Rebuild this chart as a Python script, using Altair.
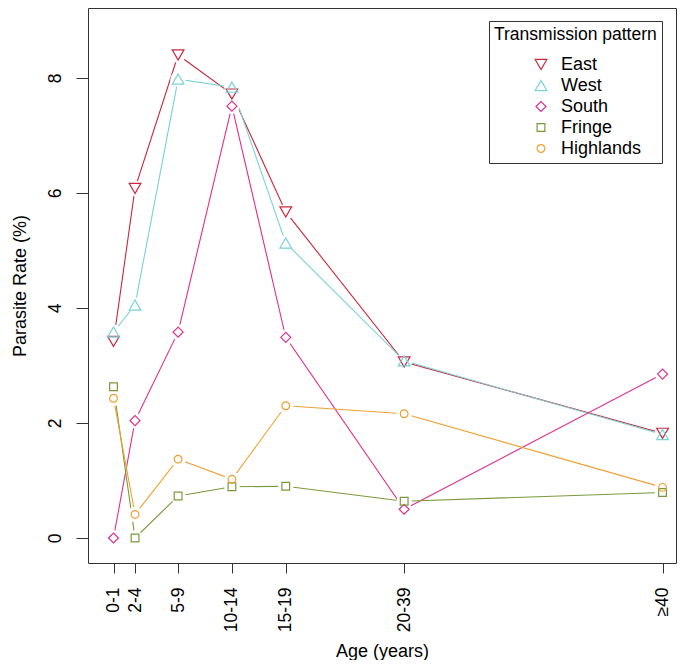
import altair as alt
import pandas as pd

AGE_LABELS = ["0-1", "2-4", "5-9", "10-14", "15-19", "20-39", "≥40"]
AGE_POS = [1, 3, 7, 12, 17, 28, 52]
SERIES = ["East", "West", "South", "Fringe", "Highlands"]
EAST = [3.42, 6.08, 8.40, 7.72, 5.67, 3.06, 1.82]
WEST = [3.58, 4.05, 7.98, 7.84, 5.13, 3.08, 1.80]
SOUTH = [0.0, 2.04, 3.58, 7.51, 3.49, 0.50, 2.85]
FRINGE = [2.63, 0.0, 0.73, 0.89, 0.90, 0.64, 0.79]
HIGHLANDS = [2.43, 0.41, 1.37, 1.02, 2.30, 2.16, 0.88]
COLORS = ["#C8283C", "#78D2D6", "#E0308A", "#7A9A3A", "#F0A030"]
SHAPES = ["triangle-down", "triangle-up", "diamond", "square", "circle"]
SIZES = [137, 137, 100, 60, 60]

values = [EAST, WEST, SOUTH, FRINGE, HIGHLANDS]
rows = []
for name, vals in zip(SERIES, values):
    for pos, lab, v in zip(AGE_POS, AGE_LABELS, vals):
        rows.append({"series": name, "age": pos, "label": lab, "rate": v})
df = pd.DataFrame(rows)

FONT = "Liberation Sans"

x_enc = alt.X(
    "age:Q",
    scale=alt.Scale(domain=[-1.369, 53.25], nice=False, zero=False),
    axis=alt.Axis(
        values=AGE_POS,
        labelExpr="[" + ",".join("'" + l + "'" for l in AGE_LABELS) + "][indexof(["
        + ",".join(str(p) for p in AGE_POS) + "], datum.value)]",
        labelAngle=270,
        labelAlign="right",
        labelBaseline="middle",
        tickSize=10,
        labelPadding=14,
        title="Age (years)",
        titleFontSize=18,
        titleY=93,
        titleBaseline="alphabetic",
        labelFlush=False,
        labelOverlap=False,
    ),
)
y_enc = alt.Y(
    "rate:Q",
    scale=alt.Scale(domain=[-0.435, 9.217], nice=False, zero=False),
    axis=alt.Axis(
        values=[0, 2, 4, 6, 8],
        labelAngle=270,
        labelAlign="center",
        labelBaseline="bottom",
        tickSize=12,
        labelPadding=12,
        title="Parasite Rate (%)",
        titleFontSize=18,
        titleAngle=270,
        titleX=-68,
        titleBaseline="middle",
        labelFlush=False,
    ),
)

color_scale = alt.Scale(domain=SERIES, range=COLORS)
shape_scale = alt.Scale(domain=SERIES, range=SHAPES)
size_scale = alt.Scale(type="ordinal", domain=SERIES, range=SIZES)

legend = alt.Legend(
    title="Transmission pattern",
    orient="none",
    legendX=401,
    legendY=13,
)

base = alt.Chart(df)

lines = base.mark_line(strokeWidth=1.1).encode(
    x=x_enc,
    y=y_enc,
    stroke=alt.Stroke("series:N", scale=color_scale, legend=None),
    detail="series:N",
    order="age:Q",
)

gaps = base.mark_point(filled=True, shape="circle", size=240, opacity=1).encode(
    x=x_enc,
    y=y_enc,
    color=alt.value("white"),
)

points = base.mark_point(filled=False, strokeWidth=1.2, opacity=1).encode(
    x=x_enc,
    y=y_enc,
    color=alt.Color("series:N", scale=color_scale, legend=legend),
    shape=alt.Shape("series:N", scale=shape_scale, legend=legend),
    size=alt.Size("series:N", scale=size_scale, legend=legend),
)

chart = (
    alt.layer(lines, gaps, points)
    .resolve_scale(stroke="independent")
    .properties(
        width=588,
        height=555,
        autosize=alt.AutoSizeParams(type="none"),
        padding={"left": 80, "top": 0, "right": 1, "bottom": 97},
    )
    .configure_view(stroke="#333", strokeWidth=1)
    .configure_axis(
        domain=False,
        grid=False,
        tickColor="#333",
        labelColor="black",
        titleColor="black",
        labelFont=FONT,
        labelFontSize=17.5,
        titleFont=FONT,
        titleFontSize=18,
        titleFontWeight="normal",
    )
    .configure_legend(
        strokeColor="#333",
        fillColor="white",
        padding=5,
        symbolOffset=38,
        labelOffset=11,
        titlePadding=12,
        rowPadding=3,
        titleFont=FONT,
        titleFontSize=17.5,
        titleFontWeight="normal",
        titleColor="black",
        labelFont=FONT,
        labelFontSize=18,
        labelColor="black",
        symbolStrokeWidth=1.2,
    )
)

chart.save("out.html", embed_options={"renderer": "svg", "actions": False})
